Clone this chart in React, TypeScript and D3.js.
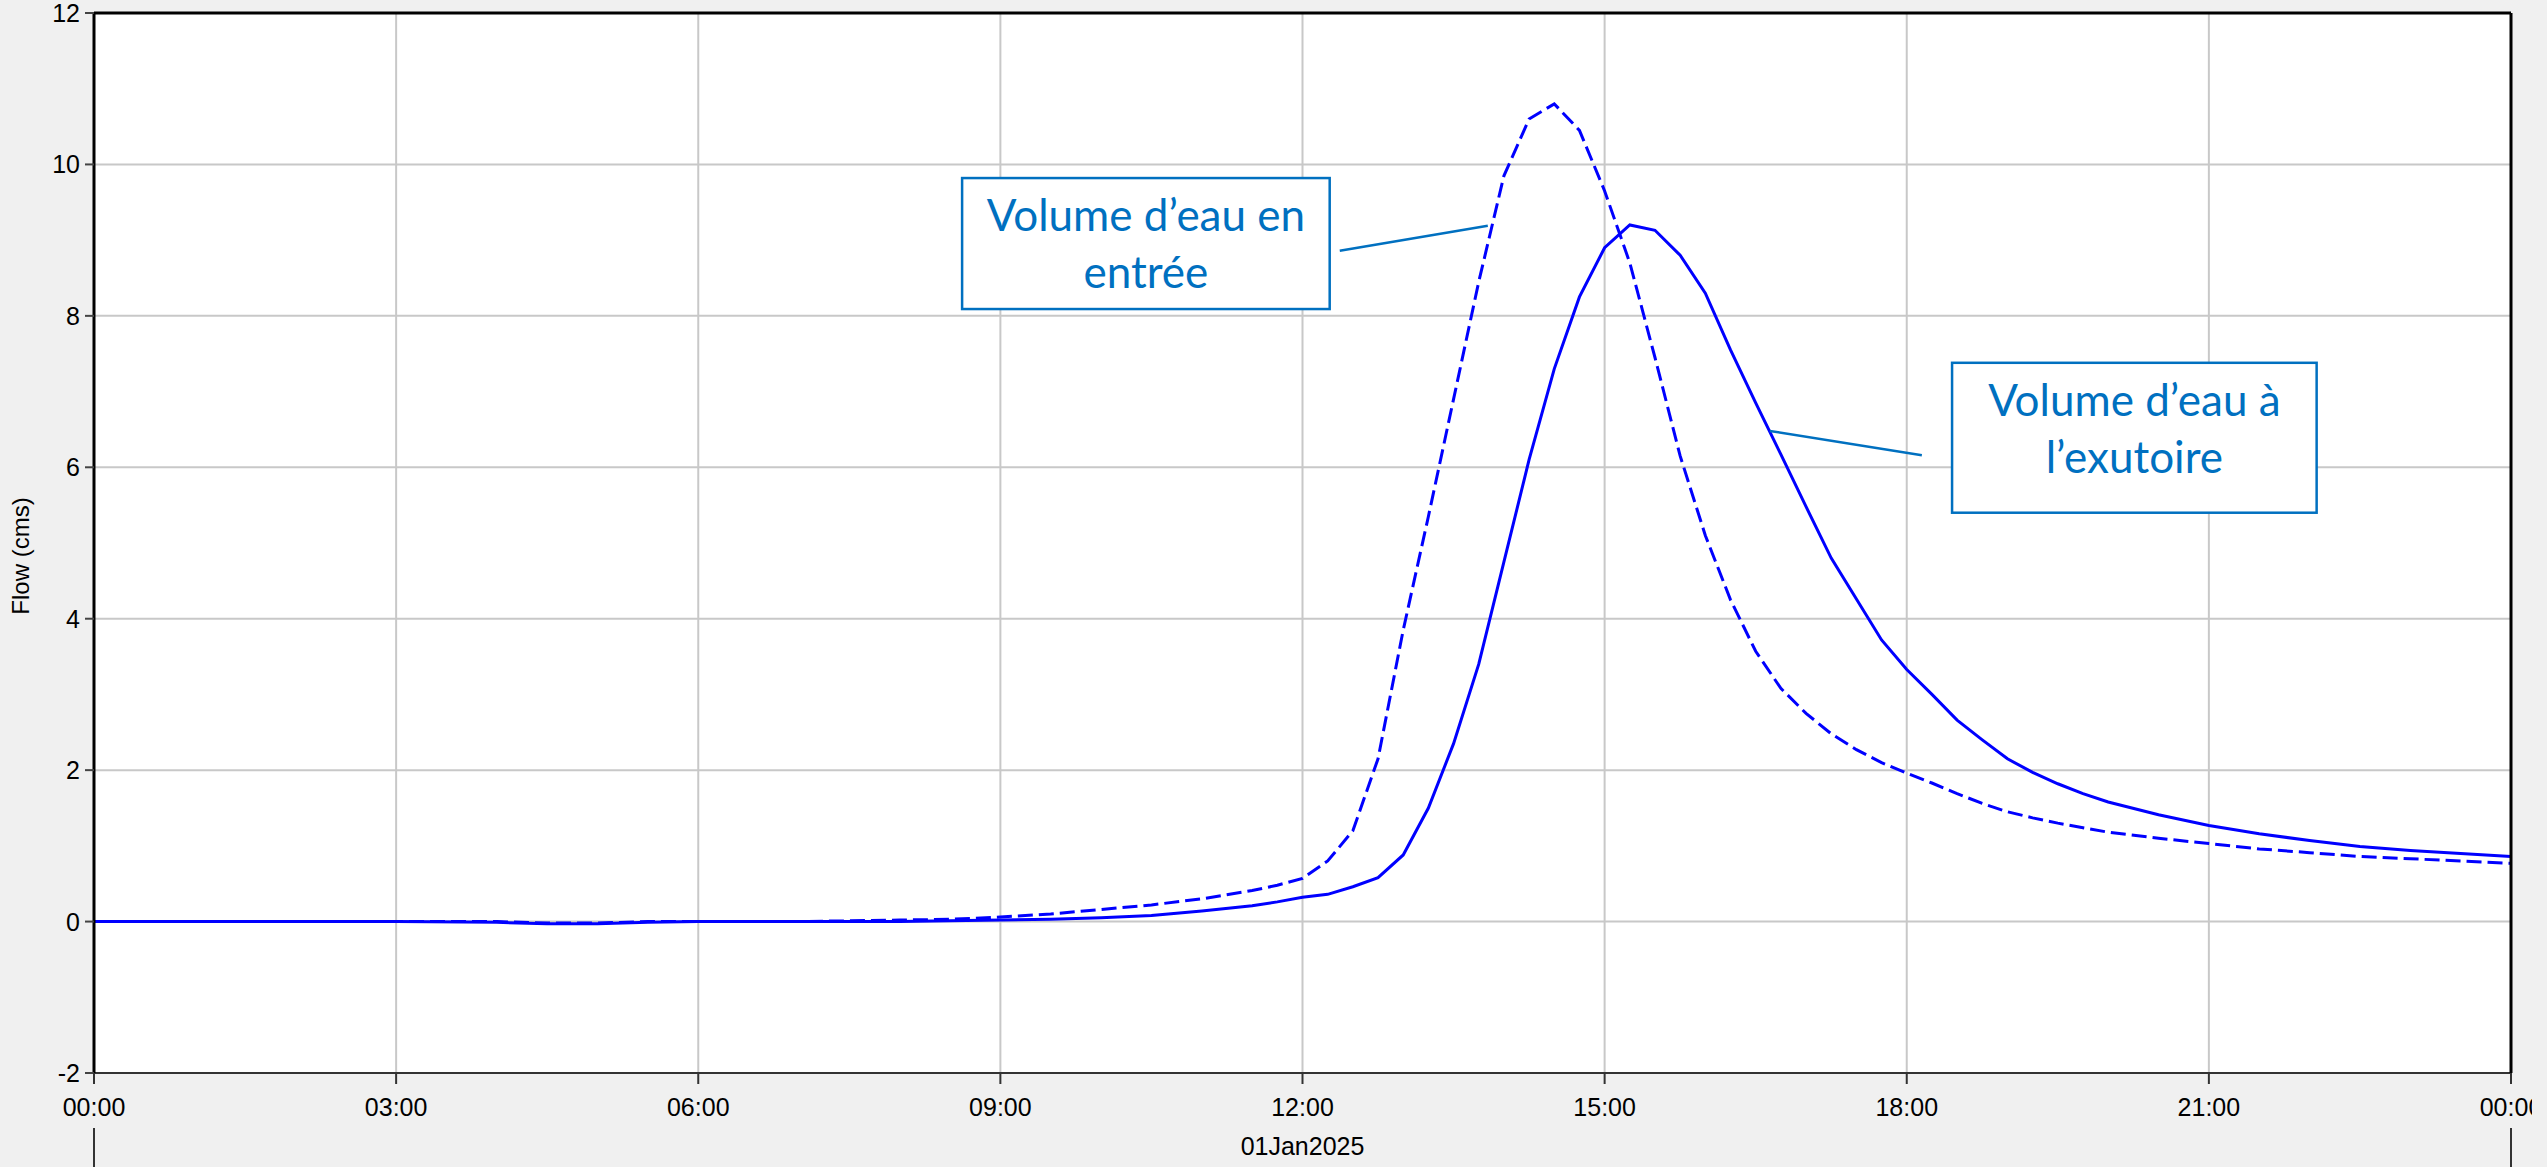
import React from "react";
import * as d3 from "d3";

// readings taken off the hydrograph (time of day, flow in cms)
const times = [
  "00:00", "01:00", "02:00", "03:00", "04:00", "04:30", "05:00", "05:30", "06:00", "07:00", "07:30", "08:00", "08:30",
  "09:00", "09:30", "10:00", "10:30", "11:00", "11:30", "11:45",
  "12:00", "12:15", "12:30", "12:45", "13:00", "13:15", "13:30", "13:45",
  "14:00", "14:15", "14:30", "14:45", "15:00", "15:15", "15:30", "15:45",
  "16:00", "16:15", "16:30", "16:45", "17:00", "17:15", "17:30", "17:45",
  "18:00", "18:15", "18:30", "18:45", "19:00", "19:15", "19:30", "19:45",
  "20:00", "20:30", "21:00", "21:30", "22:00", "22:30", "23:00", "23:30", "24:00"
];

const inflow = [
  0, 0, 0, 0, 0, -0.02, -0.02, 0, 0, 0, 0.01, 0.02, 0.03,
  0.06, 0.1, 0.16, 0.22, 0.3, 0.41, 0.48,
  0.57, 0.8, 1.2, 2.15, 3.85, 5.35, 6.9, 8.45,
  9.85, 10.6, 10.8, 10.45, 9.65, 8.7, 7.45, 6.15,
  5.1, 4.25, 3.57, 3.08, 2.75, 2.48, 2.27, 2.1,
  1.96, 1.83, 1.69, 1.56, 1.45, 1.37, 1.3, 1.24,
  1.18, 1.1, 1.03, 0.96, 0.91, 0.86, 0.83, 0.8, 0.77
];

const outflow = [
  0, 0, 0, 0, -0.01, -0.03, -0.03, -0.01, 0, 0, 0, 0, 0.01,
  0.02, 0.03, 0.05, 0.08, 0.14, 0.21, 0.26,
  0.32, 0.36, 0.46, 0.58, 0.88, 1.5, 2.35, 3.4,
  4.75, 6.1, 7.3, 8.25, 8.9, 9.2, 9.13, 8.8,
  8.3, 7.55, 6.85, 6.17, 5.48, 4.8, 4.26, 3.72,
  3.33, 3.0, 2.66, 2.4, 2.15, 1.97, 1.82, 1.69,
  1.58, 1.41, 1.27, 1.16, 1.07, 0.99, 0.94, 0.9, 0.86
];

const yTicks = [-2, 0, 2, 4, 6, 8, 10, 12];
const xTicks = [0, 3, 6, 9, 12, 15, 18, 21, 24];
const dateLabel = "01Jan2025";
const yTitle = "Flow (cms)";

// callouts in data coordinates (hours, cms)
const callouts = [
  { lines: ["Volume d\u2019eau en", "entr\u00e9e"], box: [8.62, 9.82, 12.27, 8.09], from: [12.37, 8.86], to: [13.84, 9.19] },
  { lines: ["Volume d\u2019eau \u00e0", "l\u2019exutoire"], box: [18.45, 7.38, 22.07, 5.4], from: [18.15, 6.16], to: [16.64, 6.48] }
];

const toHours = (s: string) => {
  const [h, m] = s.split(":").map(Number);
  return h + m / 60;
};

const margin = { top: 13, right: 21, bottom: 94, left: 94 };
const fullW = 2547;
const fullH = 1167;
const svgW = 2532;
const width = 2511 - margin.left;
const height = 1073 - margin.top;

export default function App() {
  const x = d3.scaleLinear().domain([0, 24]).range([0, width]);
  const y = d3.scaleLinear().domain([-2, 12]).range([height, 0]);

  const hours = times.map(toHours);
  const line = d3
    .line<number>()
    .x((_, i) => x(hours[i]))
    .y(d => y(d));

  const fmt = (h: number) => d3.format("02d")(h % 24) + ":00";
  const axisFont = "'Liberation Sans', Arial, sans-serif";
  const noteFont = "Lato, 'Noto Sans', sans-serif";
  const noteColor = "#0070c0";

  return (
    <div style={{ position: "fixed", left: 0, top: 0, width: fullW, height: fullH, background: "#f0f0f0" }}>
      <svg width={svgW} height={fullH} style={{ display: "block" }}>
        <g transform={`translate(${margin.left},${margin.top})`}>
          <rect width={width} height={height} fill="#fff" />

          {/* grid */}
          {yTicks.slice(1, -1).map(t => (
            <line key={"gy" + t} x1={0} x2={width} y1={y(t)} y2={y(t)} stroke="#c8c8c8" strokeWidth={2} />
          ))}
          {xTicks.slice(1, -1).map(t => (
            <line key={"gx" + t} x1={x(t)} x2={x(t)} y1={0} y2={height} stroke="#c8c8c8" strokeWidth={2} />
          ))}

          {/* series */}
          <path d={line(inflow) || ""} fill="none" stroke="#0000ff" strokeWidth={3} strokeDasharray="15,6" />
          <path d={line(outflow) || ""} fill="none" stroke="#0000ff" strokeWidth={3} />

          {/* frame */}
          <line x1={0} x2={width} y1={height} y2={height} stroke="#333" strokeWidth={2} />
          <line x1={0} x2={width} y1={0} y2={0} stroke="#000" strokeWidth={3} />
          <line x1={0} x2={0} y1={0} y2={height} stroke="#000" strokeWidth={3} />
          <line x1={width} x2={width} y1={0} y2={height} stroke="#000" strokeWidth={3} />

          {/* y axis */}
          {yTicks.map(t => (
            <g key={"yt" + t} transform={`translate(0,${y(t)})`}>
              <line x1={-9} x2={0} stroke="#444" strokeWidth={2} />
              <text x={-14} dy="0.36em" textAnchor="end" fontFamily={axisFont} fontSize={25} fill="#000">
                {t}
              </text>
            </g>
          ))}
          <text
            transform={`translate(${20 - margin.left},${height / 2 + 13}) rotate(-90)`}
            textAnchor="middle"
            dy="0.36em"
            fontFamily={axisFont}
            fontSize={24}
            fill="#000"
          >
            {yTitle}
          </text>

          {/* x axis */}
          {xTicks.map(t => (
            <g key={"xt" + t} transform={`translate(${x(t)},${height})`}>
              <line y1={0} y2={11} stroke="#333" strokeWidth={2} />
              <text y={43} textAnchor="middle" fontFamily={axisFont} fontSize={25} fill="#000">
                {fmt(t)}
              </text>
            </g>
          ))}
          {[0, 24].map(t => (
            <line key={"sep" + t} x1={x(t)} x2={x(t)} y1={height + 55} y2={height + 94} stroke="#333" strokeWidth={2} />
          ))}
          <text x={x(12)} y={height + 82} textAnchor="middle" fontFamily={axisFont} fontSize={25} fill="#000">
            {dateLabel}
          </text>

          {/* callouts */}
          {callouts.map((c, i) => {
            const [h0, v0, h1, v1] = c.box;
            const bx = x(h0);
            const by = y(v0);
            const bw = x(h1) - bx;
            const bh = y(v1) - by;
            const cx = bx + bw / 2;
            return (
              <g key={"c" + i}>
                <line
                  x1={x(c.from[0])}
                  y1={y(c.from[1])}
                  x2={x(c.to[0])}
                  y2={y(c.to[1])}
                  stroke={noteColor}
                  strokeWidth={2.5}
                />
                <rect x={bx} y={by} width={bw} height={bh} fill="#fff" stroke={noteColor} strokeWidth={2.5} />
                {c.lines.map((l, j) => (
                  <text
                    key={j}
                    x={cx}
                    y={by + 53 + j * 57}
                    textAnchor="middle"
                    fontFamily={noteFont}
                    fontSize={44}
                    fill={noteColor}
                  >
                    {l}
                  </text>
                ))}
              </g>
            );
          })}
        </g>
      </svg>
    </div>
  );
}
